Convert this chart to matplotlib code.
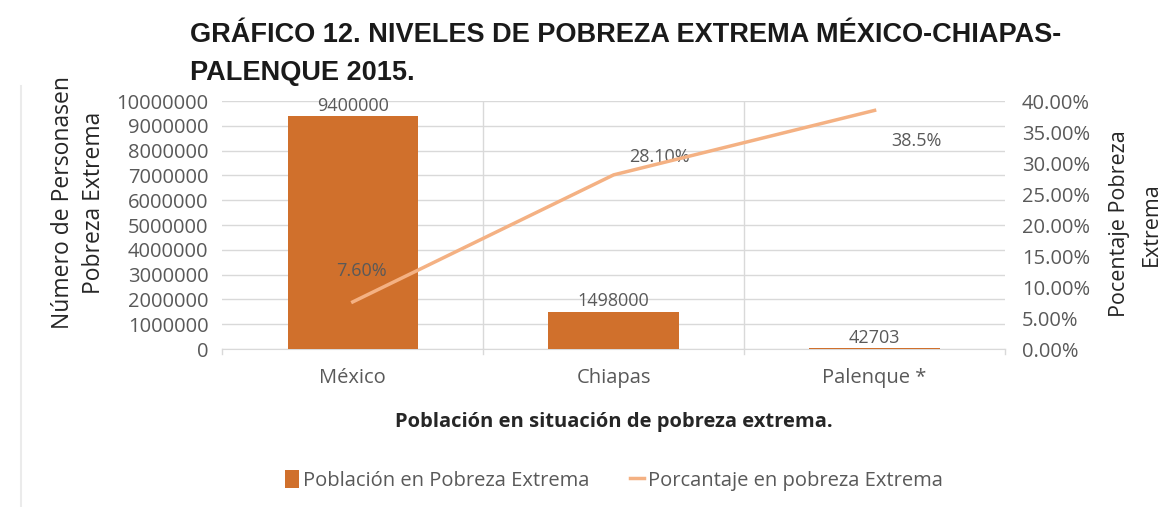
import numpy as np
import matplotlib.pyplot as plt
from matplotlib.patches import Patch
from matplotlib.lines import Line2D

# Categories and values
categorias = ['México', 'Chiapas', 'Palenque *']
poblacion = [9400000, 1498000, 42703]
porcentaje = [7.60, 28.10, 38.5]
etiquetas_pct = ['7.60%', '28.10%', '38.5%']
y_ticks = np.arange(0, 10000001, 1000000)
pct_ticks = np.arange(0, 40.01, 5)

bar_color = '#D0702C'
line_color = '#F4B183'
text_gray = '#595959'
grid_gray = '#D9D9D9'

plt.rcParams['font.family'] = ['Open Sans', 'DejaVu Sans']

fig = plt.figure(figsize=(11.7, 5.07), dpi=100)
ax = fig.add_axes([0.190, 0.3116, 0.669, 0.489])
ax2 = ax.twinx()

x = np.arange(len(categorias))

# Bars for population
ax.bar(x, poblacion, width=0.5, color=bar_color, zorder=3)
for xi, v in zip(x, poblacion):
    ax.annotate(str(v), (xi, v), textcoords='offset points', xytext=(0, 1),
                ha='center', va='bottom', fontsize=13, color=text_gray)

ax.set_xlim(-0.5, 2.5)
ax.set_ylim(0, 10000000)
ax.set_yticks(y_ticks)
ax.set_yticklabels([str(int(t)) for t in y_ticks], fontsize=14.5, color=text_gray)
ax.set_xticks(x)
ax.set_xticklabels(categorias, fontsize=14.5, color=text_gray)
ax.tick_params(axis='x', length=0, pad=14)
ax.tick_params(axis='y', length=0, pad=10)

# Horizontal gridlines and category separators
ax.grid(axis='y', color=grid_gray, linewidth=1, zorder=0)
for sep in [0.5, 1.5]:
    ax.axvline(sep, color=grid_gray, linewidth=1, zorder=0)
for edge in [-0.5, 0.5, 1.5, 2.5]:
    ax.plot([edge, edge], [0, -0.02], transform=ax.get_xaxis_transform(),
            color=grid_gray, linewidth=1, clip_on=False)
for side in ['top', 'left', 'right']:
    ax.spines[side].set_visible(False)
    ax2.spines[side].set_visible(False)
ax.spines['bottom'].set_color(grid_gray)
ax2.spines['bottom'].set_visible(False)

# Percentage line on secondary axis
ax2.plot(x, porcentaje, color=line_color, linewidth=2.5, zorder=4)
offsets = [(6, 22), (33, 13), (30, -22)]
for xi, v, lab, off in zip(x, porcentaje, etiquetas_pct, offsets):
    ax2.annotate(lab, (xi, v), textcoords='offset points', xytext=off,
                 ha='center', va='center', fontsize=13, color=text_gray)
ax2.set_ylim(0, 40)
ax2.set_yticks(pct_ticks)
ax2.set_yticklabels(['%.2f%%' % t for t in pct_ticks], fontsize=14.5, color=text_gray)
ax2.tick_params(axis='y', length=0, pad=12)

# Axis titles
fig.text(0.054, 0.600, 'Número de Personasen', rotation=90, ha='center', va='center',
         fontsize=16.5, color='#262626')
fig.text(0.080, 0.600, 'Pobreza Extrema', rotation=90, ha='center', va='center',
         fontsize=16.5, color='#262626')
fig.text(0.957, 0.558, 'Pocentaje Pobreza', rotation=90, ha='center', va='center',
         fontsize=15.5, color='#262626')
fig.text(0.984, 0.558, 'Extrema', rotation=90, ha='center', va='center',
         fontsize=15.5, color='#262626')
fig.text(0.525, 0.168, 'Población en situación de pobreza extrema.', ha='center', va='center',
         fontsize=14.5, fontweight='bold', color='#262626')

# Chart title
fig.text(0.162, 0.931, 'GRÁFICO 12. NIVELES DE POBREZA EXTREMA MÉXICO-CHIAPAS-',
         ha='left', va='center', fontsize=19.5, fontweight='bold', color='#1a1a1a',
         family='Liberation Sans')
fig.text(0.162, 0.856, 'PALENQUE 2015.', ha='left', va='center', fontsize=19.5,
         fontweight='bold', color='#1a1a1a', family='Liberation Sans')

# Legend
handles = [Patch(facecolor=bar_color, edgecolor='none'),
           Line2D([0], [0], color=line_color, linewidth=2.5)]
fig.legend(handles, ['Población en Pobreza Extrema', 'Porcantaje en pobreza Extrema'],
           loc='center', bbox_to_anchor=(0.525, 0.052), ncol=2, frameon=False,
           fontsize=14.5, labelcolor=text_gray, handlelength=0.7, handleheight=1.0,
           handletextpad=0.2, columnspacing=2.0)

# Faint frame line on the left
fig.add_artist(Line2D([0.018, 0.018], [0.0, 0.83], transform=fig.transFigure,
                      color='#EBEBEB', linewidth=1.5))

fig.savefig('out.png', dpi=100)
